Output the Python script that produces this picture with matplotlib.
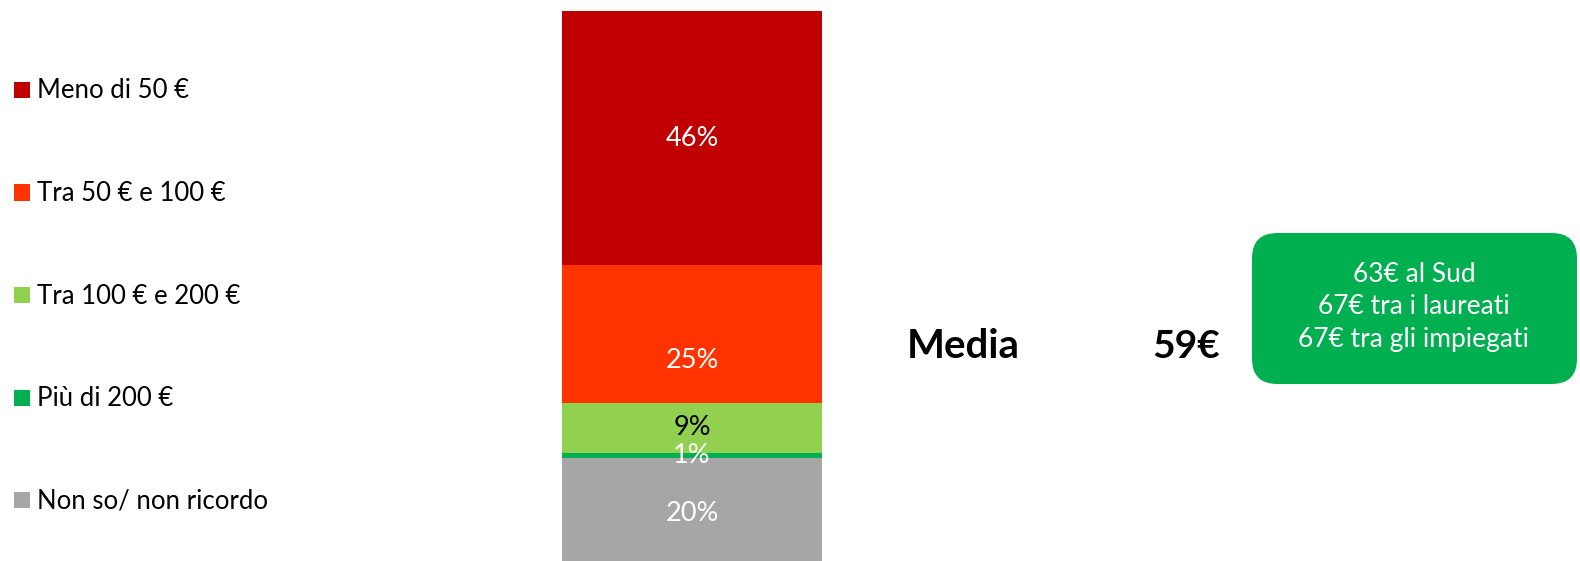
import matplotlib
matplotlib.use("Agg")
import matplotlib.pyplot as plt
from matplotlib.patches import Rectangle, FancyBboxPatch

plt.rcParams['font.family'] = ['Lato', 'DejaVu Sans']

# Data (stacked bottom -> top)
categories = ["Non so/ non ricordo", "Più di 200 €", "Tra 100 € e 200 €", "Tra 50 € e 100 €", "Meno di 50 €"]
values = [20, 1, 9, 25, 46]
labels = ["20%", "1%", "9%", "25%", "46%"]
colors = ["#A6A6A6", "#00B050", "#92D050", "#FF3300", "#C00000"]
label_colors = ["white", "white", "black", "white", "white"]
label_offsets = [0, 0, 0, -26, 0]  # pixels, as in reference
mean_label = "Media"
mean_value = "59€"
notes = ["63€ al Sud", "67€ tra i laureati", "67€ tra gli impiegati"]

W, H = 1580, 561
fig = plt.figure(figsize=(W / 100, H / 100), dpi=100)

# bar axes
ax = fig.add_axes([562 / W, 0, 260 / W, (H - 11) / H])
bottom = 0
for v, c, lab, lc, off in zip(values, colors, labels, label_colors, label_offsets):
    ax.bar(0, v, bottom=bottom, width=1.0, color=c, edgecolor='none')
    ax.annotate(lab, (0, bottom + v / 2), xytext=(0, off * 0.72), textcoords='offset points',
                ha='center', va='center', color=lc, fontsize=19.5)
    bottom += v
ax.set_xlim(-0.5, 0.5)
ax.set_ylim(1.4, 101)
ax.axis('off')

# legend (manual)
leg_y = [90, 192.5, 295, 397.5, 500]
for cat, c, y in zip(categories[::-1], colors[::-1], leg_y):
    fig.patches.append(Rectangle((14 / W, 1 - (y + 8) / H), 16 / W, 16 / H,
                                 transform=fig.transFigure, color=c, lw=0))
    fig.text(37 / W, 1 - (y + 1) / H, cat, ha='left', va='center', fontsize=18.5, color='black')

# mean
fig.text(907 / W, 1 - 347 / H, mean_label, ha='left', va='center', fontsize=29, fontweight='bold')
fig.text(1152 / W, 1 - 347 / H, mean_value, ha='left', va='center', fontsize=28, fontweight='bold')

# green box
box = FancyBboxPatch((1252 / W, 1 - 384 / H), 325 / W, 151 / H,
                     boxstyle="round,pad=0,rounding_size=0.016",
                     transform=fig.transFigure, facecolor="#00B050", edgecolor='none',
                     mutation_aspect=W / H)
fig.patches.append(box)
for line, y in zip(notes, [274, 306, 340]):
    fig.text(1414 / W, 1 - y / H, line, ha='center', va='center', fontsize=19, color='white')

fig.savefig("out.png", dpi=100)
